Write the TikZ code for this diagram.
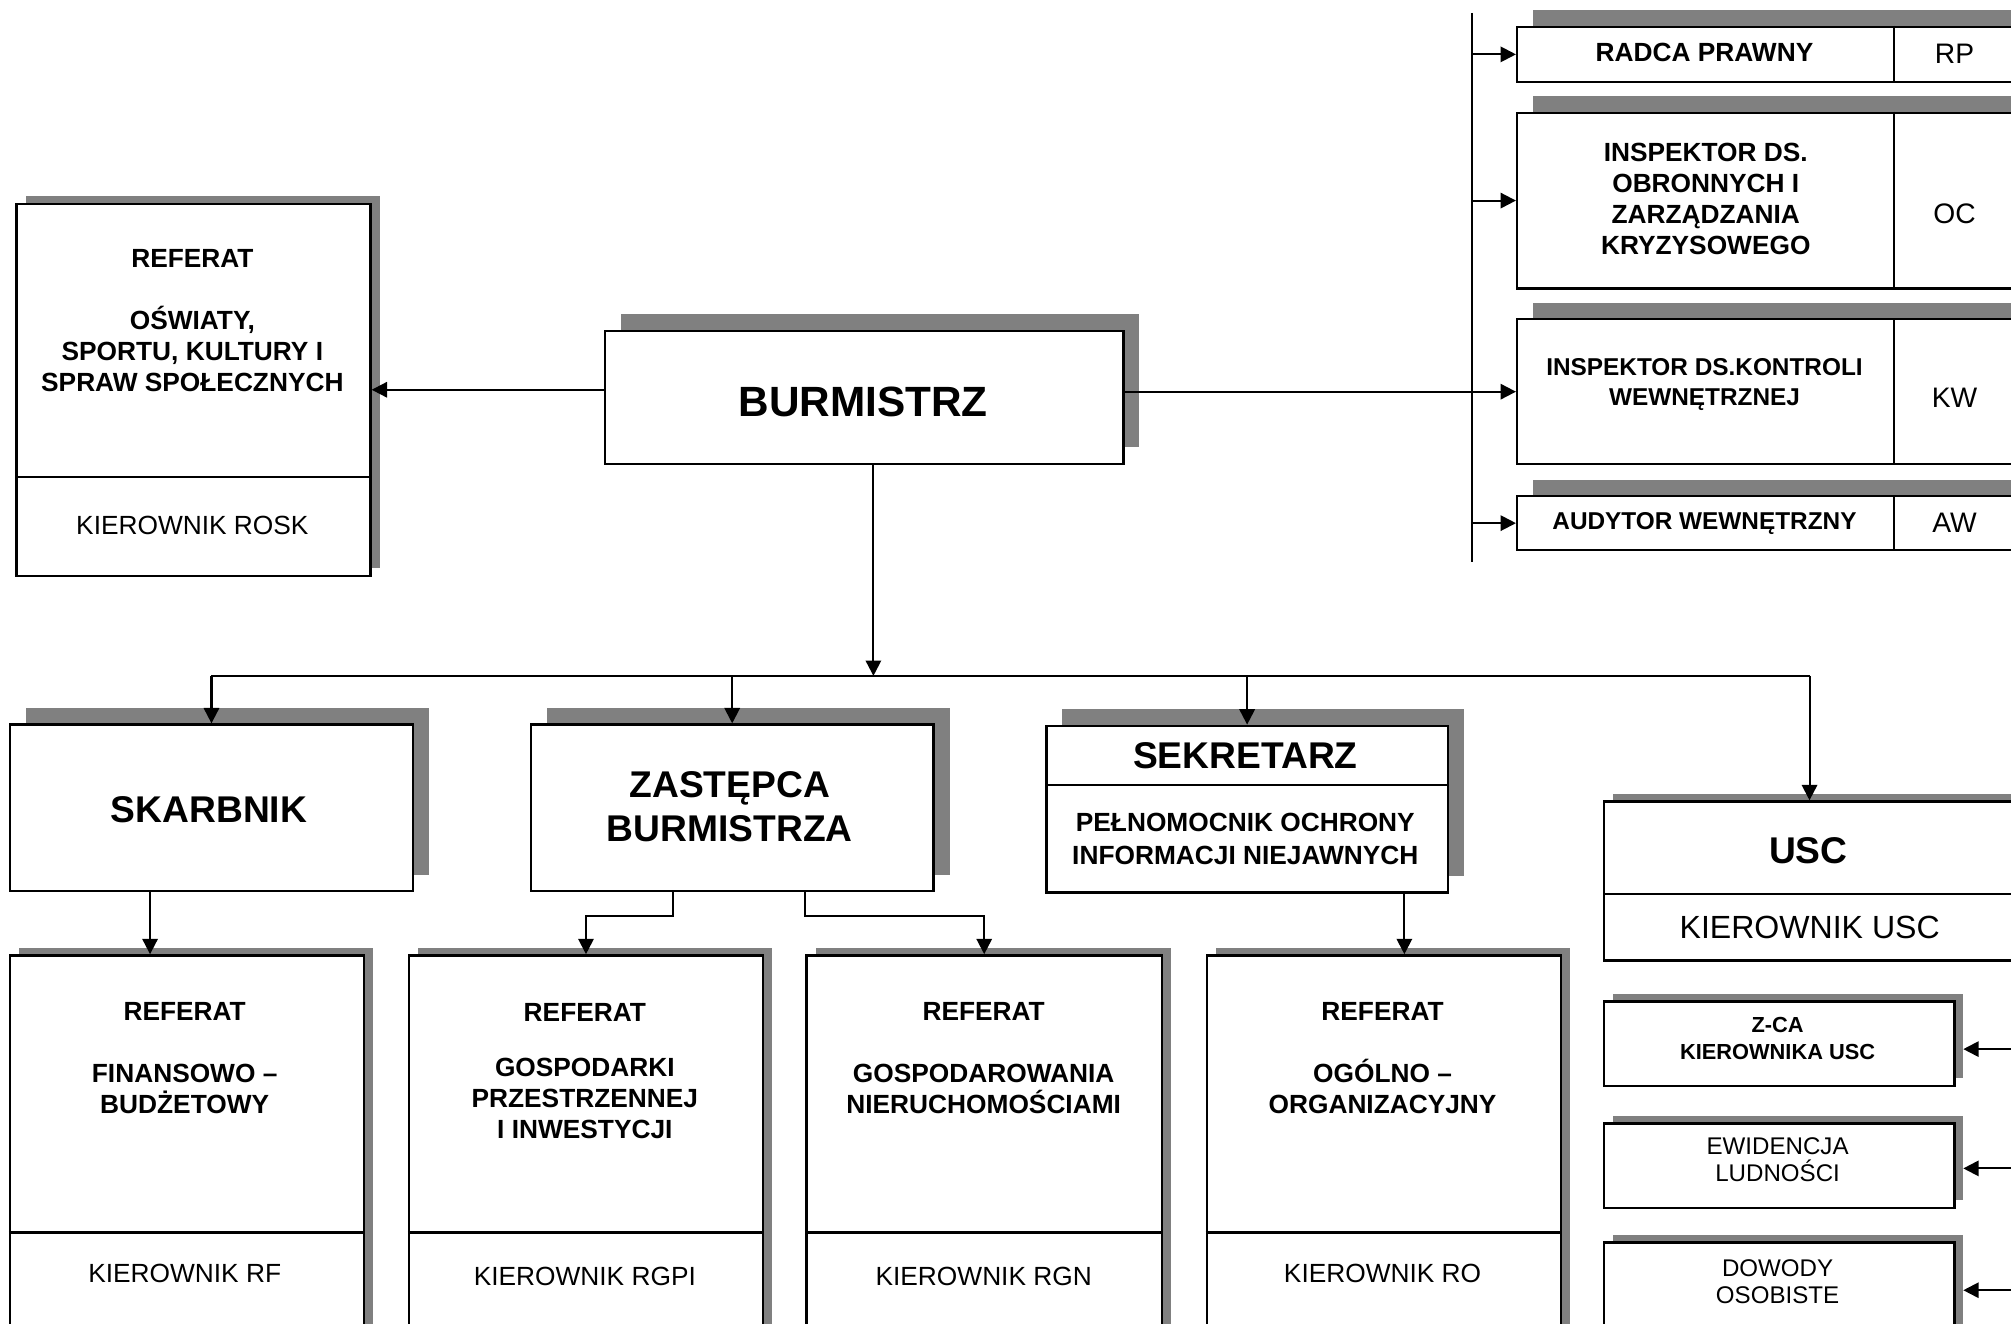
\documentclass[tikz,border=0pt]{standalone}
\usepackage{fontspec}
\setmainfont{Liberation Sans}
\usetikzlibrary{arrows.meta,shadows}
\definecolor{shadowgray}{RGB}{128,128,128}
\tikzset{
  unitbox/.style={draw, fill=white, line width=1.8pt, anchor=north west, inner sep=0pt,
    general shadow={fill=shadowgray, shadow xshift=7pt, shadow yshift=6pt}},
  bigbox/.style={draw, fill=white, line width=1.8pt, anchor=north west, inner sep=0pt,
    general shadow={fill=shadowgray, shadow xshift=12.5pt, shadow yshift=13pt}},
  boldtxt/.style={font=\fontsize{20.5}{24}\selectfont\bfseries, align=center, inner sep=0pt},
  normtxt/.style={font=\fontsize{20.5}{24}\selectfont, align=center, inner sep=0pt},
  headtxt/.style={font=\fontsize{29}{34}\selectfont\bfseries, align=center, inner sep=0pt},
  conn/.style={line width=1.6pt},
  arr/.style={line width=1.6pt, -{Stealth[inset=0pt, length=12pt, width=12pt]}},
}
\begin{document}
\begin{tikzpicture}[x=1pt, y=-1pt]
\clip (0,0) rectangle (1568,1032);

% boxes
\node[unitbox, minimum width=276pt, minimum height=290pt] (rosk) at (12,158) {};
\node[bigbox, minimum width=404pt, minimum height=104pt] (burm) at (471,257) {};
\node[bigbox, minimum width=400pt, minimum height=43pt] (rp) at (1182,20) {};
\node[bigbox, minimum width=400pt, minimum height=137pt] (oc) at (1182,87) {};
\node[bigbox, minimum width=400pt, minimum height=113pt] (kw) at (1182,248) {};
\node[bigbox, minimum width=400pt, minimum height=42pt] (aw) at (1182,386) {};
\node[bigbox, minimum width=314pt, minimum height=130pt] (skarb) at (7,564) {};
\node[bigbox, minimum width=314pt, minimum height=130pt] (zast) at (413,564) {};
\node[bigbox, minimum width=313pt, minimum height=130pt] (sekr) at (815,565) {};
\node[unitbox, minimum width=320pt, minimum height=124pt] (usc) at (1250,624) {};
\node[unitbox, minimum width=273pt, minimum height=66pt] (zca) at (1250,780) {};
\node[unitbox, minimum width=273pt, minimum height=66pt] (ewid) at (1250,875) {};
\node[unitbox, minimum width=273pt, minimum height=77pt] (dow) at (1250,968) {};
\node[unitbox, minimum width=276pt, minimum height=310pt] (rf) at (7,744) {};
\node[unitbox, minimum width=276pt, minimum height=310pt] (rgpi) at (318,744) {};
\node[unitbox, minimum width=277pt, minimum height=310pt] (rgn) at (628,744) {};
\node[unitbox, minimum width=276pt, minimum height=310pt] (ro) at (940,744) {};

% dividers
\draw[conn] ([yshift=-214pt]rosk.north west) -- ([yshift=-214pt]rosk.north east);
\draw[conn] ([yshift=-47pt]sekr.north west) -- ([yshift=-47pt]sekr.north east);
\draw[conn] ([yshift=-73pt]usc.north west) -- ([yshift=-73pt]usc.north east);
\foreach \b in {rf,rgpi,rgn,ro}
  \draw[conn] ([yshift=-217pt]\b.north west) -- ([yshift=-217pt]\b.north east);
\foreach \b in {rp,oc,kw,aw}
  \draw[conn] ([xshift=295pt]\b.north west) -- ([xshift=295pt]\b.south west);

% texts
\node[boldtxt] (rosk-t) at (150,250) {REFERAT\\[24pt]OŚWIATY,\\SPORTU, KULTURY I\\SPRAW SPOŁECZNYCH};
\node[normtxt] (rosk-k) at (150,410) {KIEROWNIK ROSK};
\node[boldtxt, font=\fontsize{33}{38}\selectfont\bfseries] (burm-t) at (673,313) {BURMISTRZ};
\node[boldtxt] (rp-t) at (1329,41) {RADCA PRAWNY};
\node[normtxt, font=\fontsize{22}{26}\selectfont] (rp-s) at (1524,42) {RP};
\node[boldtxt] (oc-t) at (1330,155) {INSPEKTOR DS.\\OBRONNYCH I\\ZARZĄDZANIA\\KRYZYSOWEGO};
\node[normtxt, font=\fontsize{22}{26}\selectfont] (oc-s) at (1524,167) {OC};
\node[boldtxt, font=\fontsize{19}{23}\selectfont\bfseries] (kw-t) at (1329,300) {INSPEKTOR DS.KONTROLI\\WEWNĘTRZNEJ};
\node[normtxt, font=\fontsize{22}{26}\selectfont] (kw-s) at (1524,310) {KW};
\node[boldtxt, font=\fontsize{19}{23}\selectfont\bfseries] (aw-t) at (1329,408) {AUDYTOR WEWNĘTRZNY};
\node[normtxt, font=\fontsize{22}{26}\selectfont] (aw-s) at (1524,408) {AW};
\node[headtxt] (skarb-t) at (163,631) {SKARBNIK};
\node[headtxt] (zast-t) at (569,629) {ZASTĘPCA\\BURMISTRZA};
\node[headtxt] (sekr-t) at (971,589) {SEKRETARZ};
\node[boldtxt, font=\fontsize{20.5}{26}\selectfont\bfseries] (sekr-p) at (971,654) {PEŁNOMOCNIK OCHRONY\\INFORMACJI NIEJAWNYCH};
\node[headtxt] (usc-t) at (1410,663) {USC};
\node[normtxt, font=\fontsize{25}{30}\selectfont] (usc-k) at (1411,723) {KIEROWNIK USC};
\node[boldtxt, font=\fontsize{17}{21}\selectfont\bfseries] (zca-t) at (1386,810) {Z-CA\\KIEROWNIKA USC};
\node[normtxt, font=\fontsize{18.8}{21}\selectfont] (ewid-t) at (1386,904) {EWIDENCJA\\LUDNOŚCI};
\node[normtxt, font=\fontsize{18.8}{21}\selectfont] (dow-t) at (1386,999) {DOWODY\\OSOBISTE};
\node[boldtxt] (rf-t) at (144,825) {REFERAT\\[24pt]FINANSOWO –\\BUDŻETOWY};
\node[normtxt] (rf-k) at (144,993) {KIEROWNIK RF};
\node[boldtxt] (rgpi-t) at (456,835) {REFERAT\\[19pt]GOSPODARKI\\PRZESTRZENNEJ\\I INWESTYCJI};
\node[normtxt] (rgpi-k) at (456,995) {KIEROWNIK RGPI};
\node[boldtxt] (rgn-t) at (767,825) {REFERAT\\[24pt]GOSPODAROWANIA\\NIERUCHOMOŚCIAMI};
\node[normtxt] (rgn-k) at (767,995) {KIEROWNIK RGN};
\node[boldtxt] (ro-t) at (1078,825) {REFERAT\\[24pt]OGÓLNO –\\ORGANIZACYJNY};
\node[normtxt] (ro-k) at (1078,993) {KIEROWNIK RO};

% connectors
\draw[arr] (burm.west |- rosk.east) -- (rosk.east);
\draw[arr] (burm.east |- kw.west) -- (kw.west);
\coordinate (bustop) at (1148,10);
\coordinate (busbot) at (1148,438);
\draw[conn] (bustop) -- (busbot);
\foreach \b in {rp,oc,aw}
  \draw[arr] (bustop |- \b.west) -- (\b.west);

\coordinate (hub) at (681,527);
\draw[arr] (hub |- burm.south) -- (hub);
\draw[conn] (skarb.north |- hub) -- (usc.north |- hub);
\foreach \b in {skarb,zast,sekr,usc}
  \draw[arr] (\b.north |- hub) -- (\b.north);

\coordinate (skdrop) at (117,0);
\coordinate (zl) at (525,714);
\coordinate (zr) at (628,714);
\coordinate (sedrop) at (1095,0);
\draw[arr] (skdrop |- skarb.south) -- (skdrop |- rf.north);
\draw[arr] (zl |- zast.south) -- (zl) -| (rgpi.north);
\draw[arr] (zr |- zast.south) -- (zr) -| (rgn.north);
\draw[arr] (sedrop |- sekr.south) -- (sedrop |- ro.north);

\coordinate (zca-in) at (1568,818);
\coordinate (ewid-in) at (1568,911);
\coordinate (dow-in) at (1568,1006);
\foreach \b in {zca,ewid,dow}
  \draw[arr, shorten >=6pt] (\b-in) -- (\b-in -| \b.east);
\end{tikzpicture}
\end{document}
